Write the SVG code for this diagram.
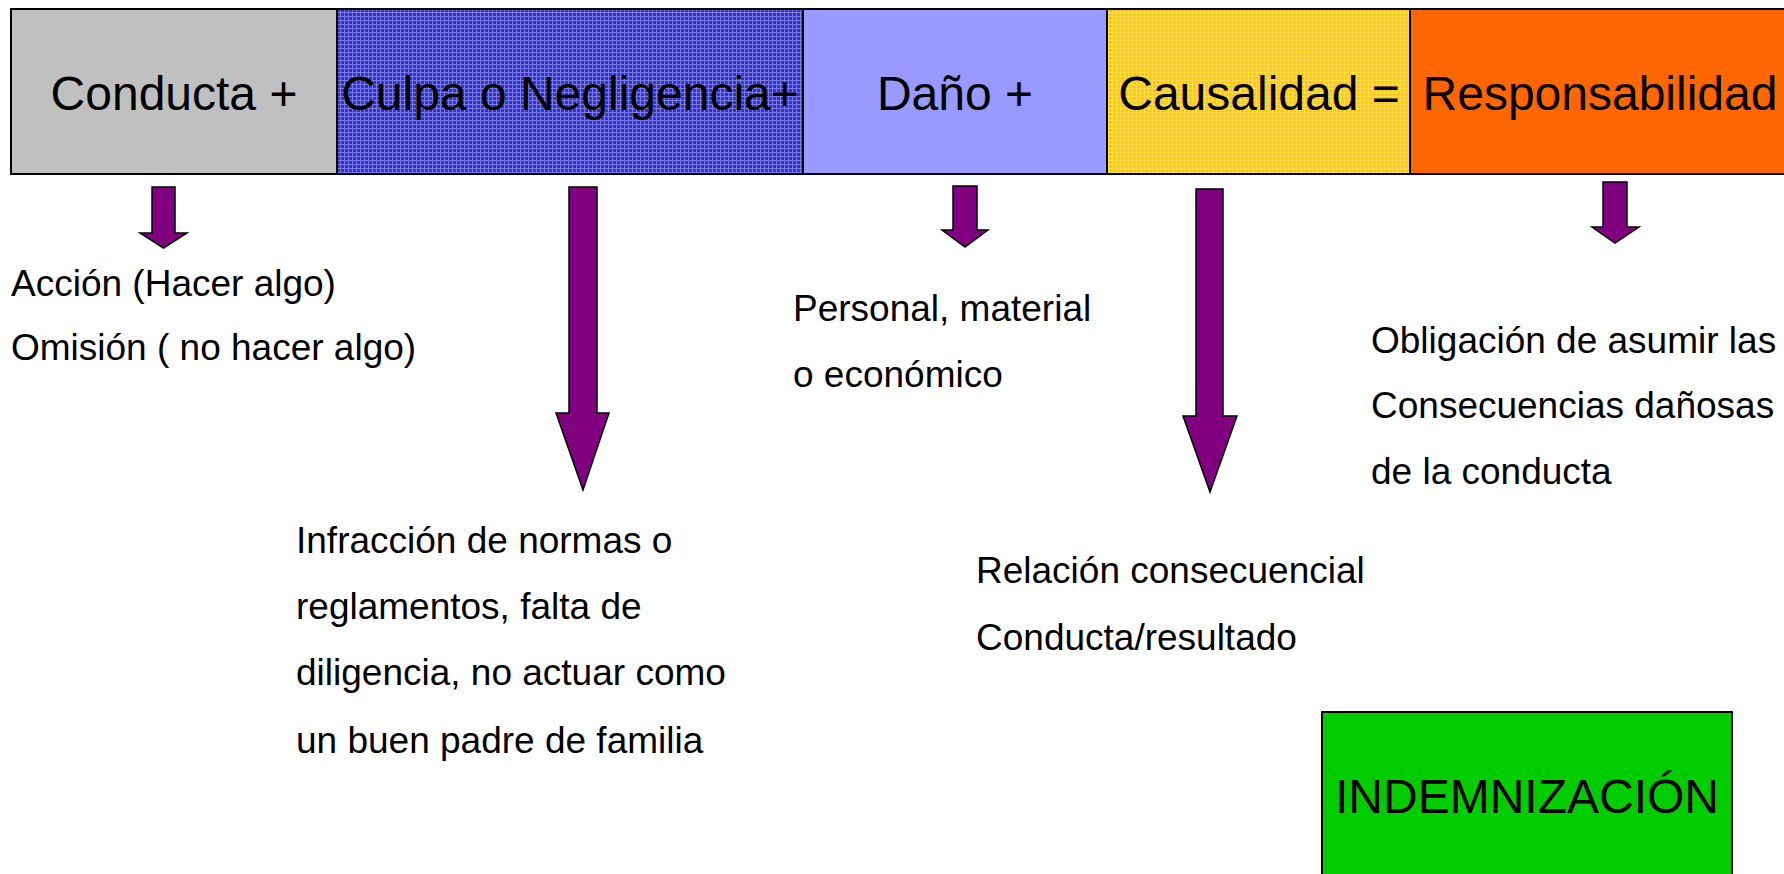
<svg xmlns="http://www.w3.org/2000/svg" width="1784" height="874" viewBox="0 0 1784 874">
<defs>
<pattern id="pBlue" width="4" height="4" patternUnits="userSpaceOnUse">
<rect width="4" height="4" fill="#3333C8"/>
<rect width="4" height="1" fill="#7A7AE6"/>
<rect width="1" height="4" fill="#7A7AE6"/>
</pattern>
<pattern id="pYellow" width="4" height="4" patternUnits="userSpaceOnUse">
<rect width="4" height="4" fill="#FFCC00"/>
<rect width="4" height="1" fill="#FFDA4A"/>
<rect width="1" height="4" fill="#FFDA4A"/>
</pattern>
<style>
.box{stroke:#000;stroke-width:2}
.title{font-family:"Liberation Sans",Arial,sans-serif;font-size:48px;fill:#000;text-anchor:middle}
.lbl{font-family:"Liberation Sans",Arial,sans-serif;font-size:37px;fill:#000}
.arrow{fill:#800080;stroke:#000;stroke-width:1.5;stroke-linejoin:miter}
</style>
</defs>
<rect width="1784" height="874" fill="#fff"/>
<g id="conducta">
<rect class="box" x="11" y="9" width="326" height="165" fill="#C0C0C0"/>
<text class="title" x="174" y="110">Conducta +</text>
</g>
<g id="culpa">
<rect class="box" x="337" y="9" width="466" height="165" fill="url(#pBlue)"/>
<text class="title" x="570" y="110">Culpa o Negligencia+</text>
</g>
<g id="dano">
<rect class="box" x="803" y="9" width="304" height="165" fill="#9999FF"/>
<text class="title" x="955" y="110">Daño +</text>
</g>
<g id="causalidad">
<rect class="box" x="1107" y="9" width="303" height="165" fill="url(#pYellow)"/>
<text class="title" x="1259" y="110">Causalidad =</text>
</g>
<g id="responsabilidad">
<rect class="box" x="1410" y="9" width="382" height="165" fill="#FF6600"/>
<text class="title" x="1600" y="110">Responsabilidad</text>
</g>
<g id="connectors">
<path class="arrow" d="M152,187 H175 V233 H187 L163.5,248 L140,233 H152 Z"/>
<path class="arrow" d="M569,187 H597 V413 H609 L583,490 L556,413 H569 Z"/>
<path class="arrow" d="M953,186 H977 V230 H988 L965,247 L942,230 H953 Z"/>
<path class="arrow" d="M1196,189 H1223 V416 H1237 L1210,492 L1183,416 H1196 Z"/>
<path class="arrow" d="M1603,182 H1627 V227 H1639 L1615,243 L1592,227 H1603 Z"/>
</g>
<g id="accion">
<text class="lbl" x="11" y="296">Acción (Hacer algo)</text>
<text class="lbl" x="11" y="360">Omisión ( no hacer algo)</text>
</g>
<g id="infraccion">
<text class="lbl" x="296" y="553">Infracción de normas o</text>
<text class="lbl" x="296" y="619">reglamentos, falta de</text>
<text class="lbl" x="296" y="685">diligencia, no actuar como</text>
<text class="lbl" x="296" y="753">un buen padre de familia</text>
</g>
<g id="personal">
<text class="lbl" x="793" y="321">Personal, material</text>
<text class="lbl" x="793" y="387">o económico</text>
</g>
<g id="relacion">
<text class="lbl" x="976" y="583">Relación consecuencial</text>
<text class="lbl" x="976" y="650">Conducta/resultado</text>
</g>
<g id="obligacion">
<text class="lbl" x="1371" y="353">Obligación de asumir las</text>
<text class="lbl" x="1371" y="418">Consecuencias dañosas</text>
<text class="lbl" x="1371" y="484">de la conducta</text>
</g>
<g id="indemnizacion">
<rect class="box" x="1322" y="712" width="410" height="180" fill="#00CC00"/>
<text class="title" x="1527" y="813">INDEMNIZACIÓN</text>
</g>
</svg>
